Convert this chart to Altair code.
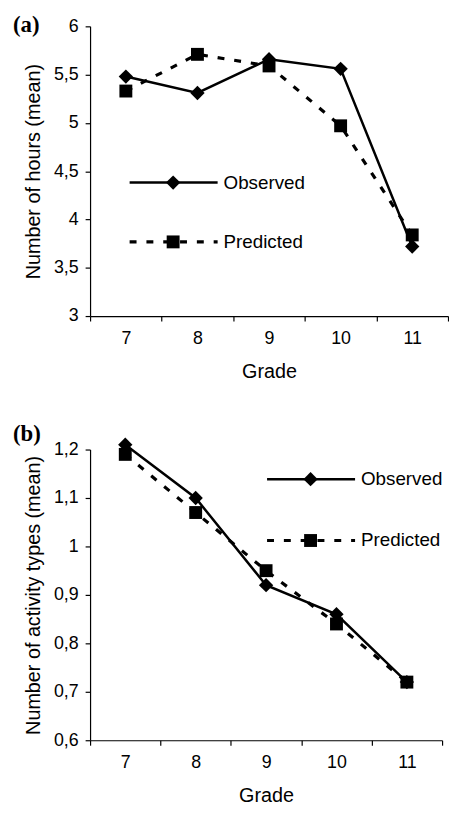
import altair as alt
import pandas as pd

grades = ["7", "8", "9", "10", "11"]
series_names = ["Observed", "Predicted"]

hours_observed = [5.48, 5.31, 5.66, 5.56, 3.72]
hours_predicted = [5.33, 5.71, 5.59, 4.97, 3.84]
hours_ticks = [3, 3.5, 4, 4.5, 5, 5.5, 6]

types_observed = [1.21, 1.10, 0.92, 0.86, 0.72]
types_predicted = [1.19, 1.07, 0.95, 0.84, 0.72]
types_ticks = [0.6, 0.7, 0.8, 0.9, 1.0, 1.1, 1.2]

DASH = [7, 10]


def panel(obs, pred, ticks, ytitle, label, label_y, width, height, leg_x, leg_y):
    df = pd.DataFrame({
        "Grade": grades * 2,
        "value": obs + pred,
        "series": [series_names[0]] * len(grades) + [series_names[1]] * len(grades),
    })
    x = alt.X(
        "Grade:O", sort=grades, bandPosition=0.5,
        scale=alt.Scale(type="band", paddingInner=0, paddingOuter=0),
        axis=alt.Axis(title="Grade", labelAngle=0, tickBand="extent", tickSize=5,
                      labelPadding=9, titlePadding=14),
    )
    y = alt.Y(
        "value:Q",
        scale=alt.Scale(domain=[ticks[0], ticks[-1]], nice=False, zero=False),
        axis=alt.Axis(title=ytitle, values=ticks, grid=False, tickSize=5,
                      labelPadding=7, titlePadding=10,
                      labelExpr="replace(format(datum.value, ''), '.', ',')"),
    )
    base = alt.Chart(df).encode(x=x, y=y)
    obs_line = base.transform_filter(alt.datum.series == "Observed").mark_line(
        color="black", strokeWidth=2.5)
    obs_pts = base.transform_filter(alt.datum.series == "Observed").mark_point(
        shape="diamond", size=210, filled=True, color="black", opacity=1)
    pred_line = base.transform_filter(alt.datum.series == "Predicted").mark_line(
        color="black", strokeWidth=3.2, strokeDash=DASH)
    pred_pts = base.transform_filter(alt.datum.series == "Predicted").mark_point(
        shape="square", size=170, filled=True, color="black", opacity=1)

    layers = [obs_line, obs_pts, pred_line, pred_pts]
    shapes = ["diamond", "square"]
    for i, name in enumerate(series_names):
        ldf = pd.DataFrame({"series": [name]})
        lc = alt.Chart(ldf)
        ly = leg_y[i]
        if i == 0:
            rule = lc.mark_rule(color="black", strokeWidth=2.5)
        else:
            rule = lc.mark_rule(color="black", strokeWidth=3.2, strokeDash=DASH)
        layers.append(rule.encode(x=alt.value(leg_x), x2=alt.value(leg_x + 89), y=alt.value(ly)))
        layers.append(lc.mark_point(shape=shapes[i], size=210 if i == 0 else 170, filled=True,
                                    color="black", opacity=1)
                      .encode(x=alt.value(leg_x + 44), y=alt.value(ly)))
        layers.append(lc.mark_text(align="left", baseline="middle", font="Liberation Sans",
                                   fontSize=19, color="black")
                      .encode(x=alt.value(leg_x + 95), y=alt.value(ly), text="series:N"))
    lab = alt.Chart(pd.DataFrame({"label": [label]})).mark_text(
        align="left", baseline="middle", font="Liberation Serif", fontWeight="bold",
        fontSize=23, color="black").encode(x=alt.value(-78), y=alt.value(label_y), text="label:N")
    layers.append(lab)
    return alt.layer(*layers).properties(width=width, height=height)


a = panel(hours_observed, hours_predicted, hours_ticks, "Number of hours (mean)", "(a)", -1,
          362, 293, 40, [158, 218])
b = panel(types_observed, types_predicted, types_ticks, "Number of activity types (mean)", "(b)", -16,
          356, 294, 179, [30, 92])

chart = alt.vconcat(a, b, spacing=42).properties(
    padding={"left": 5, "top": 2, "right": 0, "bottom": 0}
).configure_view(stroke=None).configure_axis(
    domainColor="black", tickColor="black", labelColor="black", titleColor="black",
    labelFont="Liberation Sans", titleFont="Liberation Sans", labelFontSize=18,
    titleFontSize=20, titleFontWeight="normal", domainWidth=1.2, tickWidth=1.2,
)

chart.save("out.html", embed_options={"renderer": "svg", "actions": False})
